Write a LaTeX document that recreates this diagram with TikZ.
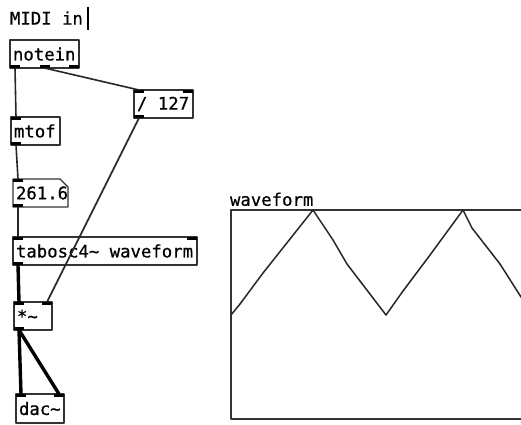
\documentclass[tikz,border=0pt]{standalone}
\usepackage{fontspec}
\newfontfamily\pdfont[FakeBold=0.6]{DejaVu Sans Mono}
% full-width blank for the mono font
\newcommand{\ws}{\hspace{0.602em}}

% inlets and outlets of a box
\newcommand{\inL}[1]{\fill (#1.north west) rectangle ++(10,3);}
\newcommand{\inR}[1]{\fill (#1.north east) rectangle ++(-10,3);}
\newcommand{\outL}[1]{\fill (#1.south west) rectangle ++(10,-3);}
\newcommand{\outM}[1]{\fill ([xshift=-5pt]#1.south) rectangle ++(10,-3);}
\newcommand{\outR}[1]{\fill (#1.south east) rectangle ++(-10,-3);}

\tikzset{
	obj/.style 	= {draw=black!80, line width=1.4pt, anchor=north west, align=left,
		inner xsep=3pt, inner ysep=0pt, outer sep=0pt,
		minimum height=28pt, font=\pdfont\fontsize{17.3}{19}\selectfont},
	msg/.style 	= {obj, draw=none},
	ctl/.style 	= {line width=1.6pt, draw=black!85},
	sig/.style 	= {line width=3.4pt}
}

\begin{document}
\begin{tikzpicture}[x=1pt, y=-1pt, line join=round]
				\useasboundingbox (0,0) rectangle (521,424);
				\clip (0,0) rectangle (521,424);
				%\draw[help lines, step=10] (0,0) grid (521,424);
				
				% comment being typed
				\node[msg, text width=78pt] (midi) at (7,4) {MIDI\ws in};
				\coordinate (caret) at (88,7);
				\draw[line width=1.2pt] (caret) -- ++(0,23);
				
				\node[obj, text width=63pt] (notein) at (10,40) {notein};
				\node[obj, text width=53pt] (div) at (134,90) {/\ws 127};
				\node[obj, text width=43pt] (mtof) at (11,117) {mtof};
				\node[msg, text width=49pt] (num) at (13,179) {261.6};
				\draw[line width=1.4pt, black!80] (num.north west) -- ([xshift=-8pt]num.north east)
					-- ([yshift=-8pt]num.north east) -- (num.south east) -- (num.south west) -- cycle;
				\node[obj, text width=178pt] (tabosc) at (13,237) {\mbox{tabosc4\char`~\ws waveform}};
				\node[obj, text width=32pt] (mul) at (14,302) {*\char`~};
				\node[obj, text width=42pt, minimum height=29pt] (dac) at (16,394) {dac\char`~};
				
				\outL{notein} \outM{notein} \outR{notein}
				\inL{div} \inR{div} \outL{div}
				\inL{mtof} \outL{mtof}
				\inL{num} \outL{num}
				\inL{tabosc} \inR{tabosc} \outL{tabosc}
				\inL{mul} \inR{mul} \outL{mul}
				\inL{dac} \inR{dac}
				
				\draw[ctl] ([xshift=5pt]notein.south west) -- ([xshift=5pt]mtof.north west);
				\draw[ctl] (notein.south) -- ([xshift=5pt]div.north west);
				\draw[ctl] ([xshift=5pt]mtof.south west) -- ([xshift=5pt]num.north west);
				\draw[ctl] ([xshift=5pt]num.south west) -- ([xshift=5pt]tabosc.north west);
				\draw[ctl] ([xshift=5pt]div.south west) -- ([xshift=-5pt]mul.north east);
				\draw[sig] ([xshift=5pt]tabosc.south west) -- ([xshift=5pt]mul.north west);
				\draw[sig] ([xshift=5pt]mul.south west) -- ([xshift=5pt]dac.north west);
				\draw[sig] ([xshift=5pt]mul.south west) -- ([xshift=-5pt]dac.north east);
				
				% array graph
				\node[msg, anchor=south west, minimum height=0pt, inner ysep=2pt] (label) at (227,208) {waveform};
				\draw[line width=1.4pt, black!80] (231,210) rectangle (540,419);
				\draw[line width=1.5pt, black!85] (231,315) -- (240,304) -- (263,273) -- (290,239) -- (313,210)
					-- (333,240) -- (347,264) -- (386,315)
					-- (403,291) -- (430,255) -- (463,210)
					-- (472,228) -- (500,264) -- (528,308);
\end{tikzpicture}
\end{document}
